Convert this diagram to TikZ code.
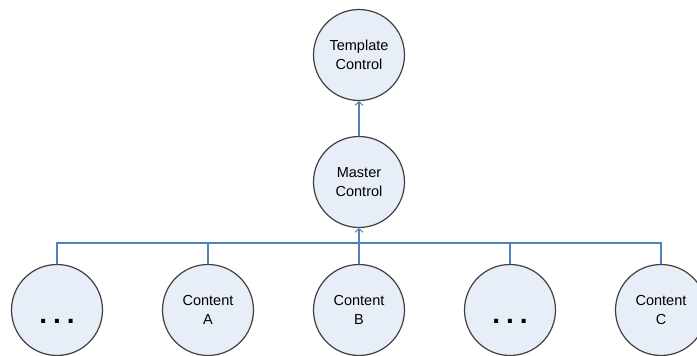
\documentclass[tikz,border=0pt]{standalone}
\usepackage{fontspec}
\setmainfont{Liberation Sans}
\usetikzlibrary{arrows.meta}
\definecolor{cfill}{RGB}{232,238,247}
\definecolor{cline}{RGB}{64,64,64}
\definecolor{conn}{RGB}{79,129,189}
\begin{document}
\begin{tikzpicture}[x=1pt,y=-1pt,
  ctl/.style={circle,draw=cline,fill=cfill,line width=1.2pt,minimum size=91pt,inner sep=0pt,
    align=center,font=\fontsize{14.5}{19.5}\selectfont},
  wire/.style={draw=conn,line width=1.1pt},
  arr/.style={wire,-{Straight Barb[length=3.5pt,width=8pt,line width=1pt]}},
  dots/.style={font=\fontsize{28}{28}\bfseries\selectfont,inner sep=0pt}]
\useasboundingbox (0,0) rectangle (697,356);
\clip (0,0) rectangle (697,356);
\node[ctl] (tpl) at (359,55) {Template\\Control};
\node[ctl] (mst) at (359,182) {Master\\Control};
\node[ctl] (d1) at (57,310) {};
\node[ctl] (ca) at (208,310) {Content\\A};
\node[ctl] (cb) at (359,310) {Content\\B};
\node[ctl] (d2) at (510,310) {};
\node[ctl] (cc) at (661,310) {Content\\C};
\node[dots] (t1) at (57,321) {.\hspace{6pt}.\hspace{6pt}.};
\node[dots] (t2) at (510,321) {.\hspace{6pt}.\hspace{6pt}.};
\coordinate (bl) at (57,243);
\coordinate (br) at (661,243);
\coordinate (bm) at (359,243);
\draw[wire] (d1.north) -- (bl) -- (br) -- (cc.north);
\draw[wire] (ca.north) -- (ca.north |- bl);
\draw[wire] (cb.north) -- (bm);
\draw[wire] (d2.north) -- (d2.north |- bl);
\draw[arr] (bm) -- (mst.south);
\draw[arr] (mst.north) -- (tpl.south);
\end{tikzpicture}
\end{document}
